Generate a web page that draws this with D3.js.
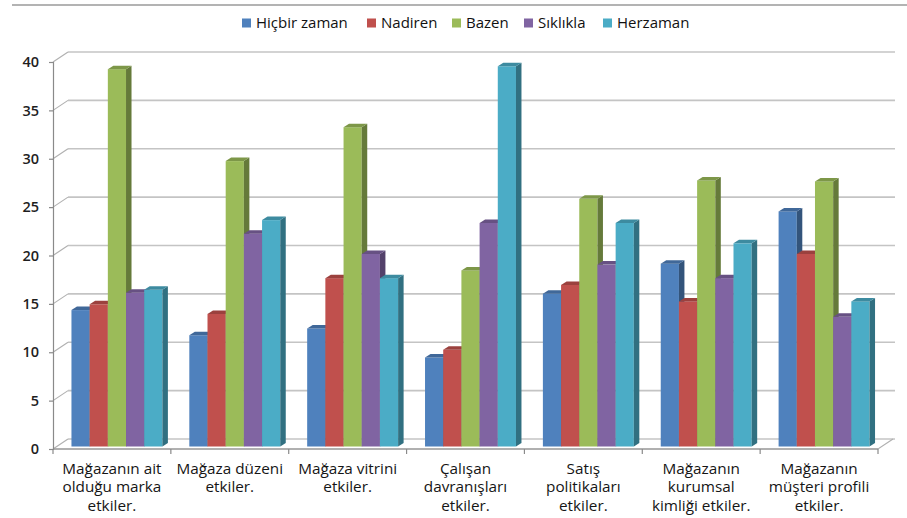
<!DOCTYPE html>
<html>
<head>
<meta charset="utf-8">
<script src="https://cdn.jsdelivr.net/npm/d3@7"></script>
<style>
  html, body { margin: 0; padding: 0; background: #fff; }
  svg { display: block; }
  text { font-family: "Open Sans", "DejaVu Sans", sans-serif; }
</style>
</head>
<body>
<svg id="chart" width="907" height="518"></svg>
<script>
// Survey categories (line breaks as shown under the axis)
const categories = [
  "Mağazanın ait\nolduğu marka\netkiler.",
  "Mağaza düzeni\netkiler.",
  "Mağaza vitrini\netkiler.",
  "Çalışan\ndavranışları\netkiler.",
  "Satış\npolitikaları\netkiler.",
  "Mağazanın\nkurumsal\nkimliği etkiler.",
  "Mağazanın\nmüşteri profili\netkiler."
];
const seriesNames = ["Hiçbir zaman", "Nadiren", "Bazen", "Sıklıkla", "Herzaman"];
const hicbirZaman = [14.1, 11.5, 12.2, 9.2, 15.8, 18.9, 24.3];
const nadiren     = [14.7, 13.7, 17.4, 10.0, 16.7, 15.0, 19.9];
const bazen       = [39.0, 29.5, 33.0, 18.2, 25.6, 27.5, 27.4];
const siklikla    = [15.9, 22.0, 19.9, 23.1, 18.8, 17.4, 13.4];
const herzaman    = [16.2, 23.4, 17.4, 39.3, 23.1, 21.0, 15.0];
const yTicks = [0, 5, 10, 15, 20, 25, 30, 35, 40];
const seriesColors = ["#4F81BD", "#C0504D", "#9BBB59", "#8064A2", "#4BACC6"];

const seriesValues = [hicbirZaman, nadiren, bazen, siklikla, herzaman];

const svg = d3.select("#chart");

// Oblique projection of the plot box: depth shifts right and up
const depthX = 15, depthY = 10;
const frontLeft = 53, frontRight = 878;

const x0 = d3.scaleBand().domain(categories).range([frontLeft, frontRight]).paddingInner(0).paddingOuter(0);
const x1 = d3.scaleBand().domain(seriesNames).range([0, x0.bandwidth()]).paddingInner(0).paddingOuter(0.74);
const y = d3.scaleLinear().domain([0, 40]).range([449, 62]);

// Bar front faces sit slightly behind the front plane
const barOffX = 5, barOffY = -2.5;
// Visible side/top depth of each column
const sideX = 5.5, sideY = -3.5;

// Top rule of the chart frame
svg.append("line")
  .attr("x1", 12).attr("x2", 907).attr("y1", 5).attr("y2", 5)
  .attr("stroke", "#9a9a9a").attr("stroke-width", 1.5);

// Back wall gridlines and the left wall connectors
const grid = svg.append("g");
yTicks.forEach(v => {
  grid.append("line")
    .attr("x1", frontLeft + depthX).attr("x2", frontRight + depthX + 2)
    .attr("y1", y(v) - depthY).attr("y2", y(v) - depthY)
    .attr("stroke", "#c4c4c4").attr("stroke-width", 1.6);
  grid.append("line")
    .attr("x1", frontLeft).attr("x2", frontLeft + depthX)
    .attr("y1", y(v)).attr("y2", y(v) - depthY)
    .attr("stroke", "#b0b0b0").attr("stroke-width", 1.2);
});

// Floor outline
svg.append("path")
  .attr("d", d3.line()([
    [frontLeft, y(0)], [frontRight, y(0)], [frontRight + depthX, y(0) - depthY]
  ]))
  .attr("fill", "none").attr("stroke", "#b0b0b0").attr("stroke-width", 1.2);

// Value axis
const yAxis = d3.axisLeft(y).tickValues(yTicks).tickSize(4).tickPadding(10);
const gy = svg.append("g").attr("transform", `translate(${frontLeft},0)`).call(yAxis);
gy.select(".domain").attr("stroke", "#8a8a8a").attr("stroke-width", 1.2);
gy.selectAll(".tick line").attr("stroke", "#8a8a8a").attr("stroke-width", 1.2);
gy.selectAll(".tick text")
  .attr("font-family", "'Open Sans', sans-serif")
  .attr("font-size", 14.5).attr("font-weight", 600).attr("fill", "#1e1e1e");

// Category axis: boundary ticks along the floor front edge
const bounds = categories.map(c => x0(c)).concat([frontRight]);
svg.append("g").selectAll("line").data(bounds).join("line")
  .attr("x1", d => d).attr("x2", d => d)
  .attr("y1", y(0)).attr("y2", y(0) + 5)
  .attr("stroke", "#8a8a8a").attr("stroke-width", 1.2);
svg.append("line")
  .attr("x1", frontLeft).attr("x2", frontRight).attr("y1", y(0)).attr("y2", y(0))
  .attr("stroke", "#8a8a8a").attr("stroke-width", 1.2);

// Category labels
const labels = svg.append("g").selectAll("text").data(categories).join("text")
  .attr("x", d => x0(d) + x0.bandwidth() / 2)
  .attr("y", 474)
  .attr("text-anchor", "middle")
  .attr("font-size", 15.3).attr("fill", "#151515");
labels.each(function (d) {
  const t = d3.select(this);
  d.split("\n").forEach((line, i) => {
    t.append("tspan").attr("x", x0(d) + x0.bandwidth() / 2).attr("dy", i === 0 ? 0 : 18.3).text(line);
  });
});

// 3D columns
const base = y(0) + barOffY;
const bars = svg.append("g");
categories.forEach((cat, ci) => {
  seriesNames.forEach((s, si) => {
    const v = seriesValues[si][ci];
    const c = d3.color(seriesColors[si]);
    const bx = x0(cat) + x1(s) + barOffX;
    const w = x1.bandwidth();
    const top = y(v) + barOffY;
    const g = bars.append("g");
    // front face
    g.append("rect").attr("x", bx).attr("y", top).attr("width", w).attr("height", base - top)
      .attr("fill", c.formatHex());
    // right side face
    g.append("path").attr("d", d3.line()([
      [bx + w, top], [bx + w + sideX, top + sideY], [bx + w + sideX, base + sideY], [bx + w, base]
    ]) + "Z").attr("fill", c.darker(1.2).formatHex());
    // top face
    g.append("path").attr("d", d3.line()([
      [bx, top], [bx + sideX, top + sideY], [bx + w + sideX, top + sideY], [bx + w, top]
    ]) + "Z").attr("fill", c.darker(0.6).formatHex());
  });
});

// Legend
const legendX = [242, 367, 452, 524, 603];
const legend = svg.append("g").selectAll("g").data(seriesNames).join("g")
  .attr("transform", (d, i) => `translate(${legendX[i]},23)`);
legend.append("rect").attr("x", 0).attr("y", -4.5).attr("width", 9).attr("height", 9)
  .attr("fill", (d, i) => seriesColors[i]);
legend.append("text").attr("x", 14).attr("y", 5.3)
  .attr("font-size", 15).attr("fill", "#111").text(d => d);
</script>
</body>
</html>
